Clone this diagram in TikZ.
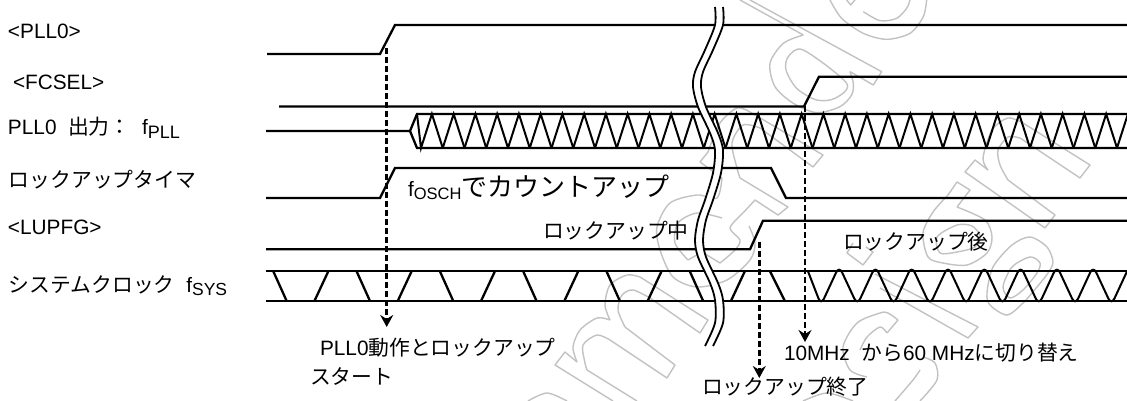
\documentclass[tikz,border=0pt]{standalone}
\usepackage{fontspec}
\setmainfont{Liberation Sans}
\newfontfamily\jp{Noto Sans CJK JP}
\usetikzlibrary{arrows.meta}
\newcommand{\lat}{\fontsize{20.8}{24}\selectfont}
\newcommand{\subt}[2][18]{\raisebox{-3.5pt}{\fontsize{#1}{22}\selectfont #2}}
\tikzset{
  x=1pt,y=-1pt,
  wave/.style={line width=2.3pt,line join=miter},
  zig/.style={line width=2pt,line join=miter},
  wm/.style={line width=1.4pt,draw=black!24,line join=round},
  breakline/.style={line width=1.8pt},
  label/.style={inner sep=0pt,outer sep=0pt,anchor=base west,font=\lat},
  darrow/.style={line width=2.6pt,dash pattern=on 6pt off 3pt,-{Stealth[length=12pt,width=13pt,inset=4pt]}},
}
\begin{document}
\begin{tikzpicture}
\useasboundingbox (0,0) rectangle (1127,401);
% watermark
\begin{scope}[shift={(660,0)},scale=0.3333]
\draw[wm] plot[smooth] coordinates{(430,105)(370,130)(330,190)(345,260)(400,310)(470,338)(540,320)(575,285)(580,250)(570,215)};
\draw[wm] (270,0)--(665,215)--(640,255)--(570,215);
\draw[wm] (240,0)--(430,105);
\draw[wm] plot[smooth cycle] coordinates{(430,150)(385,170)(378,210)(410,265)(470,300)(525,295)(560,250)};
\draw[wm] plot[smooth] coordinates{(510,0)(545,55)(610,100)(680,118)(750,100)(790,50)(800,0)};
\draw[wm] plot[smooth] coordinates{(610,35)(660,62)(710,55)(740,25)(750,0)};
\draw[wm] (560,0)--(572,15)--(585,0);
\end{scope}
% m
\draw[wm] (613,401)--(555,365)--(565,352)--(577,362);
\draw[wm] plot[smooth] coordinates{(577,362)(573,347)(580,330)(597,318)(610,320)};
\draw[wm] plot[smooth] coordinates{(610,320)(605,305)(610,285)(627,275)(640,277)};
\draw[wm] (640,277)--(708,320)--(700,333)--(650,298);
\draw[wm] plot[smooth] coordinates{(650,298)(633,290)(622,295)(618,310)(625,327)};
\draw[wm] (625,327)--(675,365)--(667,378)--(610,340);
\draw[wm] plot[smooth] coordinates{(610,340)(597,335)(583,345)(585,363)(587,370)};
\draw[wm] (587,370)--(637,401);
\draw[wm] plot[smooth] coordinates{(528,401)(547,393)(567,401)};
% e
\draw[wm] (700,162)--(708,152);
\draw[wm] plot[smooth] coordinates{(708,152)(720,123)(737,108)(750,112)};
\draw[wm] (750,112)--(823,155)--(813,167)--(760,128);
\draw[wm] plot[smooth] coordinates{(760,128)(743,125)(732,143)(737,168)(740,178)};
\draw[wm] (740,178)--(788,207)--(778,215)--(755,200)--(743,213);
\draw[wm] (700,162)--(722,178);
% a
\draw[wm] plot[smooth] coordinates{(722,178)(717,198)(697,195)(670,203)(657,227)(660,250)(673,277)(697,287)(727,280)(750,260)(755,243)(749,226)};
\draw[wm] plot[smooth] coordinates{(722,218)(697,213)(678,223)(675,243)(688,260)};
\draw[wm] (688,260)--(702,252)--(720,263);
\draw[wm] plot[smooth] coordinates{(720,263)(735,250)(740,240)(730,228)(743,213)};
% n
\draw[wm] (1045,228)--(965,172)--(975,160)--(988,170);
\draw[wm] plot[smooth] coordinates{(988,170)(983,158)(992,130)(1008,118)(1023,123)};
\draw[wm] (1023,123)--(1090,165)--(1080,178)--(1020,138);
\draw[wm] plot[smooth] coordinates{(1020,138)(1008,137)(998,150)(1000,165)(1008,180)};
\draw[wm] (1008,180)--(1055,215)--(1045,228);
% o
\draw[wm] (948,195)--(957,182)--(970,190)--(957,207);
\draw[wm] plot[smooth] coordinates{(948,195)(933,212)(923,233)(928,257)(943,263)(967,265)(987,253)(992,237)(985,220)(957,207)};
\draw[wm] plot[smooth cycle] coordinates{(957,225)(937,237)(940,253)(957,252)(975,247)(980,236)(972,226)};
% s
\draw[wm] plot[smooth cycle] coordinates{(987,293)(993,267)(1012,245)(1030,237)(1047,247)(1053,262)(1048,273)(1037,287)(1023,303)(1007,315)(990,305)};
\draw[wm] plot[smooth cycle] coordinates{(1003,287)(1012,267)(1030,257)(1040,263)(1037,273)(1023,290)(1010,298)};
% stems
\draw[wm] (875,274)--(978,327)--(968,338)--(880,288);
\draw[wm] (853,243)--(847,253)--(863,265)--(873,252)--(866,247);
% lower arcs
\draw[wm] plot[smooth] coordinates{(898,320)(888,313)(880,313)(857,323)(843,347)(850,370)(867,377)};
\draw[wm] (898,320)--(887,333);
\draw[wm] plot[smooth] coordinates{(887,333)(880,327)(867,337)(860,350)};
\draw[wm] plot[smooth] coordinates{(920,401)(937,380)(935,363)(923,357)};
\draw[wm] plot[smooth] coordinates{(895,401)(913,380)(920,370)};
\draw[wm] plot[smooth] coordinates{(803,401)(827,393)(853,401)};
% waveforms
\draw[wave] (267,54)--(380,54)--(395,25)--(1127,25);
\draw[wave] (279,106.5)--(804,106.5)--(819,76.7)--(1127,76.7);
\draw[wave] (266,131)--(410,131)--(417,114)--(1127,114);
\draw[wave] (410,131)--(417,148)--(1127,148);
\foreach \k in {-12,...,20}{
  \pgfmathsetmacro\a{682+21.75*\k}
  \pgfmathsetmacro\b{\a+10.9}
  \pgfmathsetmacro\c{\a+21.75}
  \ifnum\k=-12
    \draw[zig] (417,114)--(\a,148)--(\b,114)--(\c,148);
  \else
    \ifnum\k=20
      \draw[zig] (\a,148)--(\b,114);
    \else
      \draw[zig] (\a,148)--(\b,114)--(\c,148);
    \fi
  \fi
}
\draw[wave] (266,198)--(380,198)--(395,168)--(771,168)--(786,198)--(1127,198);
\draw[wave] (266,249.3)--(750,249.3)--(763,220.7)--(1127,220.7);
\draw[wave] (266,271.3)--(1127,271.3);
\draw[wave] (266,301.3)--(1127,301.3);
\foreach \k in {0,...,5}{
  \pgfmathsetmacro\a{273.3+83.3*\k}
  \pgfmathsetmacro\b{\a+13.5}
  \pgfmathsetmacro\c{\a+41}
  \pgfmathsetmacro\d{\a+55}
  \draw[wave] (\a,271.3)--(\b,301.3);
  \draw[wave] (\c,301.3)--(\d,271.3);
}
\draw[wave] (770,271.3)--(785,301.3);
\draw[zig,rounded corners=7pt] (808,271.3)--(821,305)
  \foreach \k in {0,...,8}{ -- ({821+36.3*\k+18.1},266) -- ({821+36.3*(\k+1)},305) } -- (1127,271);
% break mark
\fill[white] plot[smooth] coordinates{(715,7)(715,25)(705,50)(695,72)(693,87)(698,107)(710,133)(715,150)(713,173)(705,200)(698,220)(695,240)(698,257)(710,283)(715,300)(715,323)(705,346)}
 -- plot[smooth] coordinates{(713,346)(723,323)(723,300)(718,283)(706,257)(703,240)(706,220)(713,200)(721,173)(723,150)(718,133)(706,107)(701,87)(703,72)(713,50)(723,25)(723,7)} -- cycle;
\draw[breakline] plot[smooth] coordinates{(715,7)(715,25)(705,50)(695,72)(693,87)(698,107)(710,133)(715,150)(713,173)(705,200)(698,220)(695,240)(698,257)(710,283)(715,300)(715,323)(705,346)};
\draw[breakline] plot[smooth] coordinates{(723,7)(723,25)(713,50)(703,72)(701,87)(706,107)(718,133)(723,150)(721,173)(713,200)(706,220)(703,240)(706,257)(718,283)(723,300)(723,323)(713,346)};
% dashed arrows
\coordinate (a1s) at (386.7,48); \coordinate (a1e) at (386.7,327);
\coordinate (a2s) at (759.3,241.7); \coordinate (a2e) at (759.3,378);
\coordinate (a3s) at (805,106); \coordinate (a3e) at (805,342);
\draw[darrow] (a1s)--(a1e);
\draw[darrow] (a2s)--(a2e);
\draw[darrow] (a3s)--(a3e);
% labels
\node[label] (l1) at (8,39) {<PLL0>};
\node[label] (l2) at (13,90) {<FCSEL>};
\node[label] (l3) at (8,135) {PLL0\ \ {\jp 出力：}\ \ f\subt{PLL}};
\node[label] (l4) at (9,187) {\jp ロックアップタイマ};
\node[label] (l5) at (8,234) {<LUPFG>};
\node[label] (l6) at (9,292) {{\jp システムクロック}\ \ f\subt[17.5]{SYS}};
\node[label] (t1) at (408,196) {f\subt[16.5]{OSCH}{\fontsize{26}{30}\selectfont\jp でカウントアップ}};
\node[label] (t2) at (543,238) {\jp ロックアップ中};
\node[label] (t3) at (843,249) {\jp ロックアップ後};
\node[label] (t4) at (320,355) {PLL0{\jp 動作とロックアップ}};
\node[label] (t5) at (310,384) {\jp スタート};
\node[label] (t6) at (784,360) {10MHz\ \ {\jp から}60 MHz{\jp に切り替え}};
\node[label] (t7) at (702,394) {\jp ロックアップ終了};
\end{tikzpicture}
\end{document}
